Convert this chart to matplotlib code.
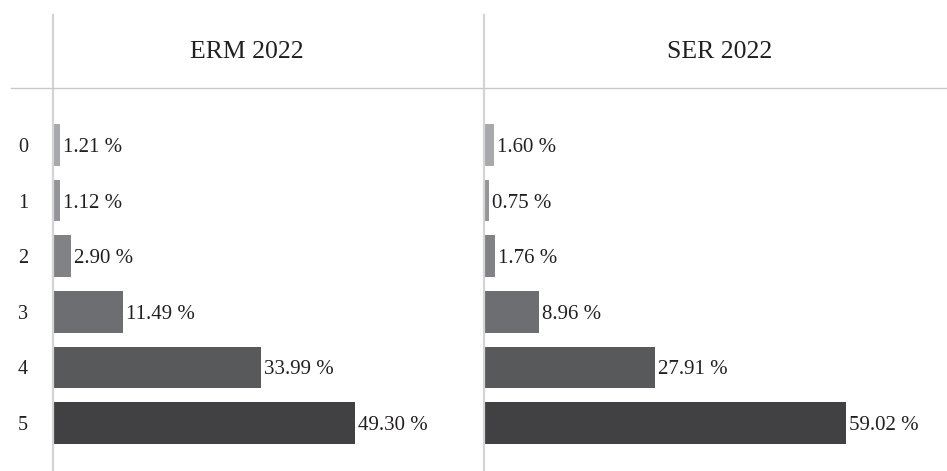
import matplotlib.pyplot as plt
from matplotlib.lines import Line2D

plt.rcParams['font.family'] = ['Liberation Serif', 'DejaVu Serif']

# Ratings 0-5, share of answers per survey
ratings = ['0', '1', '2', '3', '4', '5']
erm_2022 = [1.21, 1.12, 2.90, 11.49, 33.99, 49.30]
ser_2022 = [1.60, 0.75, 1.76, 8.96, 27.91, 59.02]
panel_titles = ['ERM 2022', 'SER 2022']

bar_colors = ['#a7a9ac', '#939598', '#808285', '#6d6e71', '#58595b', '#414042']
line_color = '#d4d4d4'

W, H = 947, 471
fig = plt.figure(figsize=(W / 100, H / 100), dpi=100)

# panel boxes in pixels: left, right
panels = [(53, 441), (484, 947)]
top_px, bot_px = 15, 471
px_per_pct = 6.13
row0_px, row_step = 145, 55.6

for (x0, x1), title, values in zip(panels, panel_titles, [erm_2022, ser_2022]):
    ax = fig.add_axes([x0 / W, 1 - bot_px / H, (x1 - x0) / W, (bot_px - top_px) / H])
    pos = list(range(len(ratings)))
    ax.barh(pos, values, height=0.75, color=bar_colors)
    ax.set_xlim(0, (x1 - x0) / px_per_pct)
    ax.set_ylim((bot_px - row0_px) / row_step, (top_px - row0_px) / row_step)

    for p, v in zip(pos, values):
        ax.annotate('{:.2f} %'.format(v), (v, p), xytext=(2.2, -1.8),
                    textcoords='offset points', ha='left', va='center',
                    fontsize=15, color='#231f20')

    ax.set_yticks(pos)
    if x0 < 100:
        ax.set_yticklabels(ratings, fontsize=14.5, color='#231f20',
                           va='center_baseline')
        ax.tick_params(axis='y', length=0, pad=18)
    else:
        ax.set_yticklabels([])
        ax.tick_params(axis='y', length=0)
    ax.set_xticks([])

    for s in ['top', 'right', 'bottom']:
        ax.spines[s].set_visible(False)
    ax.spines['left'].set_color(line_color)
    ax.spines['left'].set_linewidth(1.6)
    ax.set_zorder(1)

    hx = 0.5 if x0 < 100 else 0.509
    ax.text(hx, 1 - (52.5 - top_px) / (bot_px - top_px), title,
            transform=ax.transAxes, ha='center', va='center',
            fontsize=18.5, color='#231f20')

# header separator across both panels
fig.add_artist(Line2D([11 / W, 1], [1 - 88 / H, 1 - 88 / H],
                      color='#c8c8c8', linewidth=1.0))

fig.savefig('out.png', dpi=100)
